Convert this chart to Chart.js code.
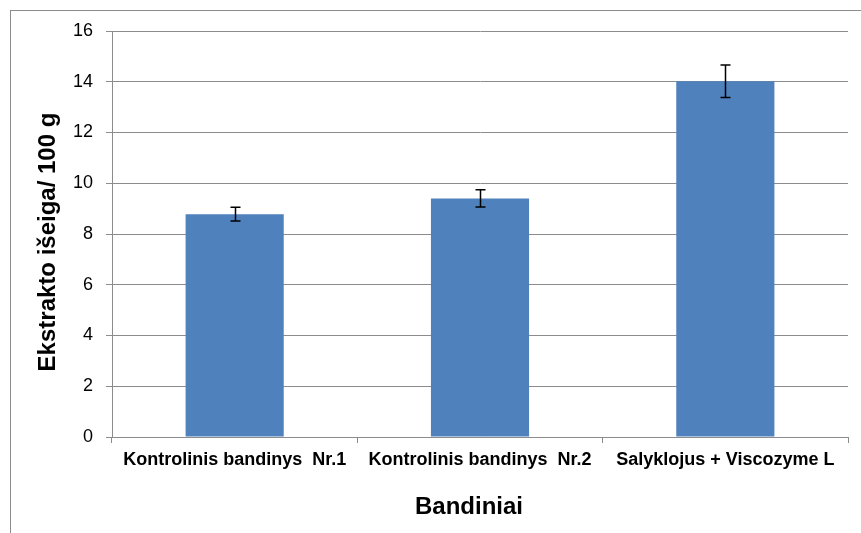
<!DOCTYPE html>
<html>
<head>
<meta charset="utf-8">
<script src="https://cdn.jsdelivr.net/npm/chart.js@4.4.0/dist/chart.umd.min.js"></script>
<style>
  body { margin: 0; background: #fff; }
  #wrap { position: relative; width: 861px; height: 533px; overflow: hidden; }
  #frame { position: absolute; left: 10px; top: 10px; width: 900px; height: 600px; border: 1px solid #8c8c8c; }
  canvas { position: absolute; left: 0; top: 0; }
</style>
</head>
<body>
<div id="wrap">
  <div id="frame"></div>
  <canvas id="chart" width="861" height="533"></canvas>
</div>
<script>
// chart data
const categories = ['Kontrolinis bandinys  Nr.1', 'Kontrolinis bandinys  Nr.2', 'Salyklojus + Viscozyme L'];
const yields = [8.78, 9.4, 14.02];
const errors = [0.27, 0.34, 0.64];
const yTitle = 'Ekstrakto išeiga/ 100 g';
const xTitle = 'Bandiniai';

// error bars + axis titles, placed with the chart's own scales
const extras = {
  id: 'extras',
  afterDatasetsDraw(chart) {
    const ctx = chart.ctx;
    const meta = chart.getDatasetMeta(0);
    const yScale = chart.scales.y;
    ctx.save();
    ctx.strokeStyle = '#000';
    ctx.lineWidth = 1.5;
    meta.data.forEach((bar, i) => {
      const x = Math.round(bar.x) + 0.5;
      const top = yScale.getPixelForValue(yields[i] + errors[i]);
      const bottom = yScale.getPixelForValue(yields[i] - errors[i]);
      ctx.beginPath();
      ctx.moveTo(x, top); ctx.lineTo(x, bottom);
      ctx.moveTo(x - 5, top); ctx.lineTo(x + 5, top);
      ctx.moveTo(x - 5, bottom); ctx.lineTo(x + 5, bottom);
      ctx.stroke();
    });
    ctx.restore();
  },
  afterDraw(chart) {
    const ctx = chart.ctx;
    const area = chart.chartArea;
    ctx.save();
    ctx.fillStyle = '#000';
    ctx.font = 'bold 24px "Liberation Sans", Arial, sans-serif';
    ctx.textAlign = 'center';
    ctx.textBaseline = 'middle';
    // x title, slightly left of plot centre as in the original
    ctx.fillText(xTitle, (area.left + area.right) / 2 - 11, 507);
    // y title, rotated
    ctx.translate(48, (area.top + area.bottom) / 2 + 8);
    ctx.rotate(-Math.PI / 2);
    ctx.fillText(yTitle, 0, 0);
    ctx.restore();
  }
};

new Chart(document.getElementById('chart'), {
  type: 'bar',
  data: {
    labels: categories,
    datasets: [{
      data: yields,
      backgroundColor: '#4F81BD',
      borderWidth: 0,
      categoryPercentage: 1,
      barPercentage: 0.4
    }]
  },
  options: {
    responsive: false,
    animation: false,
    devicePixelRatio: 1,
    layout: { padding: { left: 10, top: 31, right: 13, bottom: 0 } },
    plugins: { legend: { display: false }, tooltip: { enabled: false } },
    scales: {
      y: {
        min: 0,
        max: 16,
        afterFit(scale) { scale.width = 102; },
        ticks: {
          stepSize: 2,
          color: '#000',
          padding: 13,
          font: { family: 'Liberation Sans', size: 18 }
        },
        grid: { color: '#8c8c8c', tickLength: 6 },
        border: { color: '#8c8c8c' }
      },
      x: {
        afterFit(scale) { scale.height = 96; },
        ticks: {
          color: '#000',
          padding: 6,
          maxRotation: 0,
          font: { family: 'Liberation Sans', size: 18, weight: 'bold' }
        },
        grid: { offset: true, drawOnChartArea: false, tickLength: 6, color: '#8c8c8c' },
        border: { color: '#8c8c8c' }
      }
    }
  },
  plugins: [extras]
});
</script>
</body>
</html>
